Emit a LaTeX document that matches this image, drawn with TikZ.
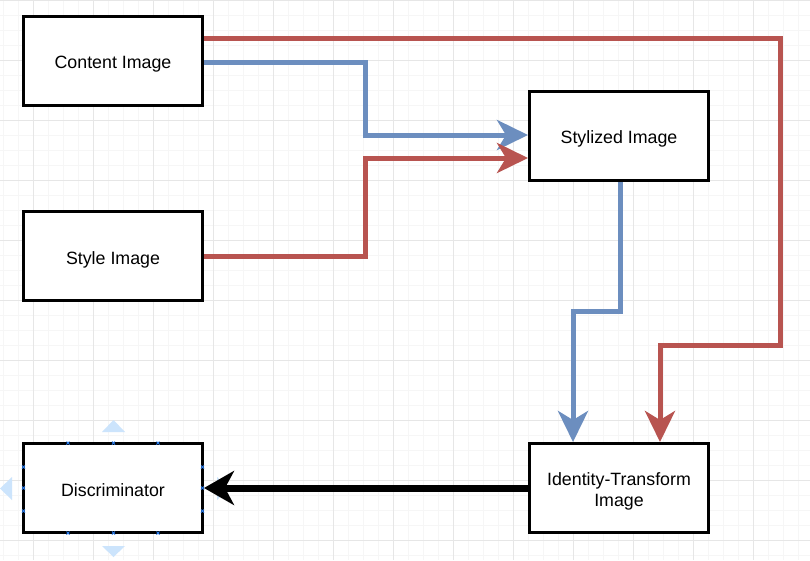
\documentclass[tikz,border=0pt]{standalone}
\usepackage{fontspec}
\setmainfont{Liberation Sans}
\usetikzlibrary{arrows.meta}
\definecolor{bl}{HTML}{6C8EBF}
\definecolor{rd}{HTML}{B85450}
\definecolor{gminor}{HTML}{F6F6F6}
\definecolor{gmajor}{HTML}{E6E6E6}
\definecolor{handle}{HTML}{CCE4FC}
\definecolor{hmark}{HTML}{2A7BEA}
\begin{document}
\begin{tikzpicture}[x=1pt,y=-1pt,
  box/.style={draw, line width=3pt, fill=white, minimum width=179pt, minimum height=89pt,
    inner sep=0pt},
  txt/.style={font=\fontsize{17.8}{21}\selectfont, align=center, inner sep=0pt},
  conn/.style={line width=5pt, -{Stealth[length=31pt,width=30pt,inset=9pt]}},
  bconn/.style={conn, draw=bl},
  rconn/.style={conn, draw=rd},
  kconn/.style={line width=7pt, draw=black, -{Stealth[length=30pt,width=34pt,inset=9pt]}},
  hmk/.style={draw=hmark, line width=0.8pt},
  htri/.style={fill=handle, draw=none}]
\useasboundingbox (0,0) rectangle (810,560);
\fill[white] (0,0) rectangle (810,560);
\foreach \x in {3,18,...,810} \draw[gminor, line width=1pt] (\x,0) -- (\x,560);
\foreach \y in {0,15,...,560} \draw[gminor, line width=1pt] (0,\y) -- (810,\y);
\foreach \x in {33,93,...,810} \draw[gmajor, line width=1pt] (\x,0) -- (\x,560);
\foreach \y in {0,60,...,560} \draw[gmajor, line width=1pt] (0,\y) -- (810,\y);

% selection handles
\fill[htri] (102,432) -- (125,432) -- (113.5,420) -- cycle;
\fill[htri] (102,546) -- (125,546) -- (113.5,557) -- cycle;
\fill[htri] (12,477) -- (12,500) -- (0,488.5) -- cycle;
\fill[htri] (217,477) -- (217,500) -- (229,488.5) -- cycle;

\node[box] (content) at (113,60.5) {};
\node[box] (style) at (113,256) {};
\node[box] (styl) at (619,136) {};
\node[box] (ident) at (619,488) {};
\node[box] (disc) at (113,488) {};
\node[txt] (contentT) at ([yshift=-4pt]content.center) {Content Image};
\node[txt] (styleT) at ([yshift=-3.5pt]style.center) {Style Image};
\node[txt] (stylT) at ([yshift=-3pt]styl.center) {Stylized Image};
\node[txt] (identT) at ([yshift=-3pt]ident.center) {Identity-Transform\\Image};
\node[txt] (discT) at ([yshift=-2.5pt]disc.center) {Discriminator};

\coordinate (r1) at (780,345);
\coordinate (b1) at (620,311);
\coordinate (b2) at (365,62);
\coordinate (r2) at (365,256);

\draw[rconn] ([yshift=22.5pt]content.east) -| (r1) -| ([xshift=41pt]ident.north);
\draw[bconn] ([yshift=-1.5pt]content.east) -- (b2) |- ([yshift=1pt]styl.west);
\draw[rconn] (style.east) -- (r2) |- ([yshift=-22pt]styl.west);
\draw[bconn] ([xshift=1pt]styl.south) -- (b1) -| ([xshift=-46pt]ident.north);
\draw[kconn] (ident.west) -- (disc.east);

% handle marks
\foreach \p in {(68,443),(113.5,443),(158,443),(68,533),(113.5,533),(158,533),
  (23.5,467),(23.5,488),(23.5,511),(202.5,467),(202.5,488),(202.5,511)}
  \draw[hmk] \p ++(-1.5,-1.5) -- ++(3,3) \p ++(-1.5,1.5) -- ++(3,-3);
\end{tikzpicture}
\end{document}
